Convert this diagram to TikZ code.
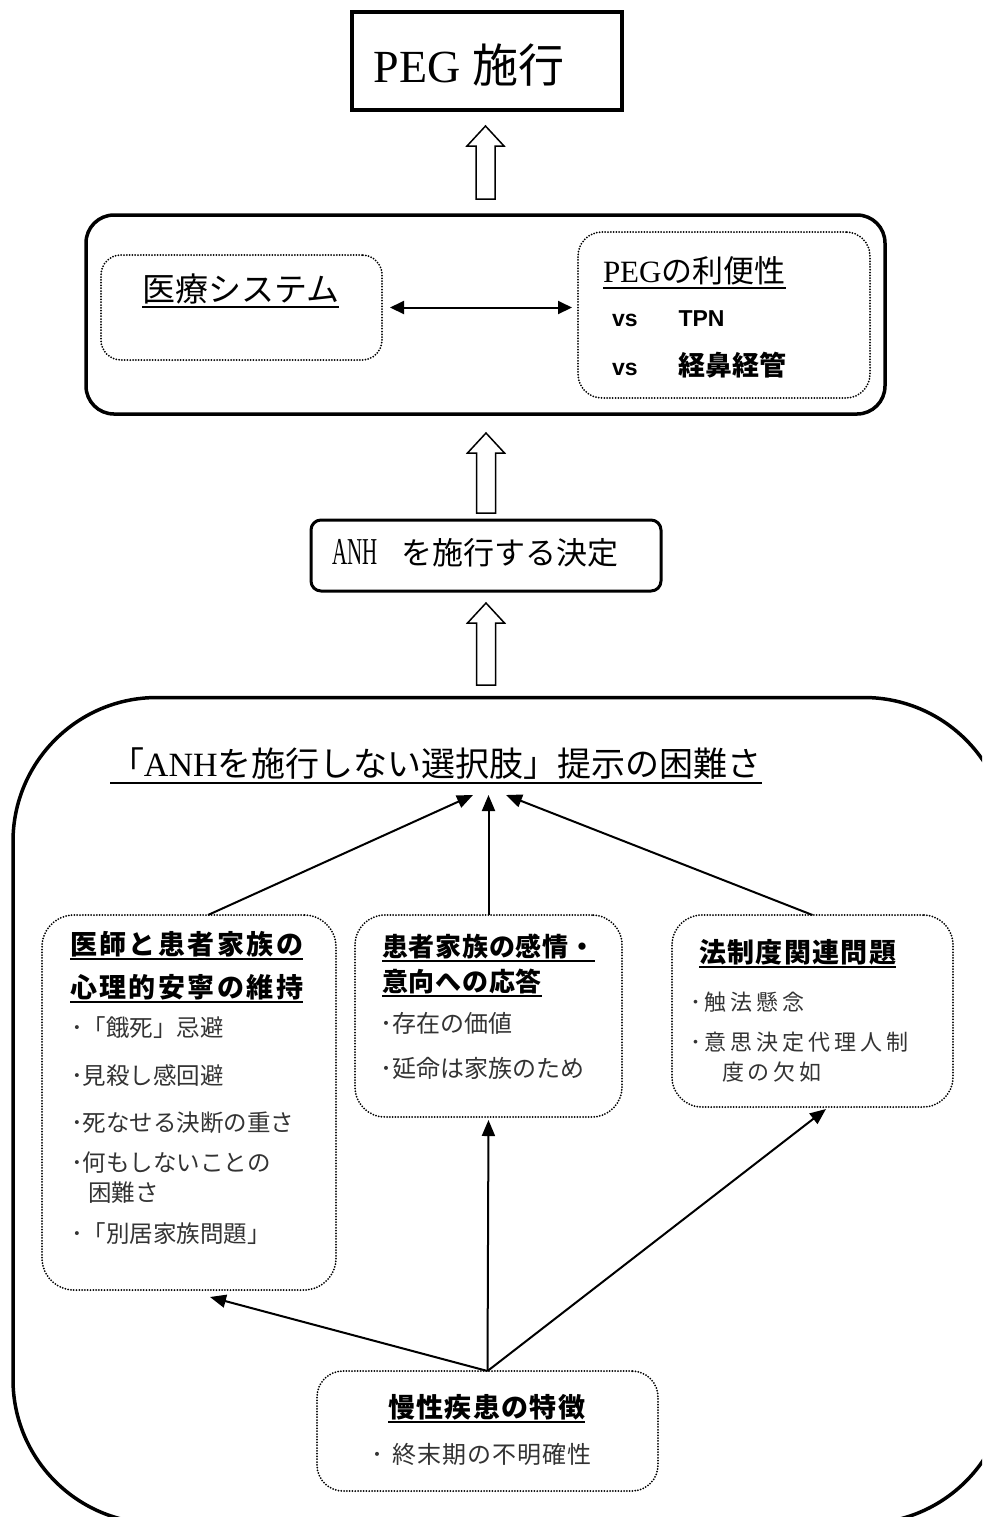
\documentclass[tikz,border=0pt]{standalone}
\usepackage{fontspec}
\usepackage{graphicx}
\setmainfont{Liberation Serif}
\newfontfamily\jp{Noto Sans CJK JP}
\newfontfamily\lsans{Liberation Sans}
\usetikzlibrary{arrows.meta,calc}
\newcommand\fsz[1]{\fontsize{#1}{#1}\selectfont}
\newcommand\blockup[2]{\draw[blk] #1 ++(-9.5,0) -- ++(0,-#2) -- ++(-9,0) -- ++(18.5,-20) -- ++(18.5,20) -- ++(-9,0) -- ++(0,#2) -- cycle;}
\newcommand\ulnode[2]{\draw[ul] ([yshift=-#2]#1.base west) -- ([yshift=-#2]#1.base east);}
\tikzset{
  frame/.style={draw, rectangle, inner sep=0pt, outer sep=0pt},
  dotbox/.style={frame, line width=1pt, line cap=round, dash pattern=on 0pt off 1.4pt},
  txt/.style={inner sep=0pt, outer sep=0pt, anchor=base west},
  txtc/.style={inner sep=0pt, outer sep=0pt, anchor=base},
  conn/.style={line width=1pt, -{Triangle[length=8pt,width=6.5pt]}},
  dconn/.style={line width=1pt, {Triangle[length=7pt,width=6.5pt]}-{Triangle[length=7pt,width=6.5pt]}},
  blk/.style={draw, line width=0.75pt, fill=white, line join=miter},
  ul/.style={line width=1.1pt},
  hdr/.style={txt, font={\jp\bfseries\fsz{13.5pt}}},
  item/.style={txt, text=black!80},
}
\begin{document}
\begin{tikzpicture}[x=0.5pt,y=-0.5pt]
\useasboundingbox (0,0) rectangle (982,1517);
\fill[white] (0,0) rectangle (982,1517);
\clip (0,0) rectangle (982,1517);

% ---- top box
\node[frame, line width=2pt, minimum width=135pt, minimum height=49pt] (top) at (487,61) {};
\node[txtc] (toptext) at (469,82) {\fsz{23pt}PEG {\jp 施行}};

% ---- middle box
\node[frame, line width=1.75pt, rounded corners=14pt, minimum width=399.5pt, minimum height=99.5pt] (mid) at (485.5,314.5) {};
\node[dotbox, rounded corners=10pt, minimum width=140.5pt, minimum height=52.5pt] (lsys) at (241.5,307.5) {};
\node[dotbox, rounded corners=12pt, minimum width=146pt, minimum height=83pt] (peg) at (724,315) {};
\node[txt] (sys) at (142,301) {\jp\fsz{16.5pt}医療システム};
\ulnode{sys}{3pt}
\node[txt] (pegt) at (603,282) {\fsz{15.5pt}PEG{\jp の利便性}};
\ulnode{pegt}{3pt}
\node[txt] (vs1) at (612,326) {\lsans\bfseries\fsz{11.5pt}vs\hspace{20.5pt}TPN};
\node[txt] (vs2) at (612,375) {\lsans\bfseries\fsz{11.5pt}vs\hspace{20.5pt}{\jp\bfseries\fsz{13.5pt}経鼻経管}};
\draw[dconn, shorten <=4pt, shorten >=3pt] (lsys.east) -- (lsys.east -| peg.west);

% ---- ANH box
\node[frame, line width=1.5pt, rounded corners=5pt, minimum width=175pt, minimum height=35.5pt] (anh) at (486,555.5) {};
\node[txt] (anht) at (332,564) {\fsz{19pt}\scalebox{0.55}[1]{ANH}\hspace{12pt}{\jp\fsz{15.5pt}を施行する決定}};

% ---- block arrows
\blockup{($(mid.north)+(0,-16)$)}{53}
\blockup{($(anh.north)+(0,-7)$)}{60}
\blockup{($(anh.south)+(0,94)$)}{62}

% ---- outer big box (right side runs past the page edge)
\node[frame, line width=1.75pt, rounded corners=72pt, minimum width=497.5pt, minimum height=413pt] (outer) at (510.5,1110.5) {};
\node[txt] (title) at (110,776) {\jp\fsz{17pt}「{\rmfamily ANH}を施行しない選択肢」提示の困難さ};
\ulnode{title}{3.5pt}
\coordinate (tL) at (473,795);
\coordinate (tM) at (488.5,795);
\coordinate (tR) at (506,795);

% ---- left box
\node[dotbox, rounded corners=16pt, minimum width=147pt, minimum height=187.5pt] (lbox) at (189,1102.5) {};
\node[hdr] (lh1) at (70,954) {\addfontfeatures{LetterSpace=9}医師と患者家族の};
\ulnode{lh1}{2.5pt}
\node[hdr] (lh2) at (70,997) {\addfontfeatures{LetterSpace=9}心理的安寧の維持};
\ulnode{lh2}{2.5pt}
\begin{scope}[every node/.append style={font={\jp\fsz{11.75pt}}}]
\node[item] (li1) at (71,1036) {･「餓死」忌避};
\node[item] (li2) at (71,1084) {･見殺し感回避};
\node[item] (li3) at (71,1131) {･死なせる決断の重さ};
\node[item] (li4) at (71,1171) {･何もしないことの};
\node[item] (li5) at (88,1201) {困難さ};
\node[item] (li6) at (71,1242) {･「別居家族問題」};
\end{scope}

% ---- middle box
\node[dotbox, rounded corners=15pt, minimum width=133.5pt, minimum height=101pt] (mbox) at (488.5,1016) {};
\node[hdr, font={\jp\bfseries\fsz{13pt}}] (mh1) at (382,956) {\addfontfeatures{LetterSpace=3}患者家族の感情・};
\ulnode{mh1}{2.5pt}
\node[hdr, font={\jp\bfseries\fsz{13pt}}] (mh2) at (382,991) {\addfontfeatures{LetterSpace=3}意向への応答};
\ulnode{mh2}{2.5pt}
\begin{scope}[every node/.append style={font={\jp\fsz{12pt}}}]
\node[item] (mi1) at (380,1032) {･存在の価値};
\node[item] (mi2) at (380,1077) {･延命は家族のため};
\end{scope}

% ---- right box
\node[dotbox, rounded corners=15pt, minimum width=140.5pt, minimum height=96pt] (rbox) at (812.5,1011) {};
\node[hdr] (rh) at (699,962) {\addfontfeatures{LetterSpace=5}法制度関連問題};
\ulnode{rh}{2.5pt}
\begin{scope}[every node/.append style={font={\jp\fsz{11pt}\addfontfeatures{LetterSpace=18}}}]
\node[item] (ri1) at (690,1010.5) {･触法懸念};
\node[item] (ri2) at (690,1050.5) {･意思決定代理人制};
\node[item] (ri3) at (722,1080.5) {度の欠如};
\end{scope}

% ---- bottom box
\node[dotbox, rounded corners=13pt, minimum width=170.5pt, minimum height=60pt] (bbox) at (487.5,1431) {};
\node[hdr] (bh) at (388,1417) {\addfontfeatures{LetterSpace=5}慢性疾患の特徴};
\ulnode{bh}{2.5pt}
\node[item, font={\jp\fsz{12pt}\addfontfeatures{LetterSpace=4}}] (bi) at (371,1463) {･\hspace{5pt}終末期の不明確性};

% ---- connectors
\draw[conn] ([xshift=9.5pt]lbox.north) -- (tL);
\draw[conn] (mbox.north) -- (tM);
\draw[conn] (rbox.north) -- (tR);
\coordinate (bL) at (210,1297);
\coordinate (bR) at (826,1109);
\draw[conn] (bbox.north) -- (bL);
\draw[conn, shorten >=1.5pt] (bbox.north) -- (mbox.south);
\draw[conn] (bbox.north) -- (bR);
\end{tikzpicture}
\end{document}
